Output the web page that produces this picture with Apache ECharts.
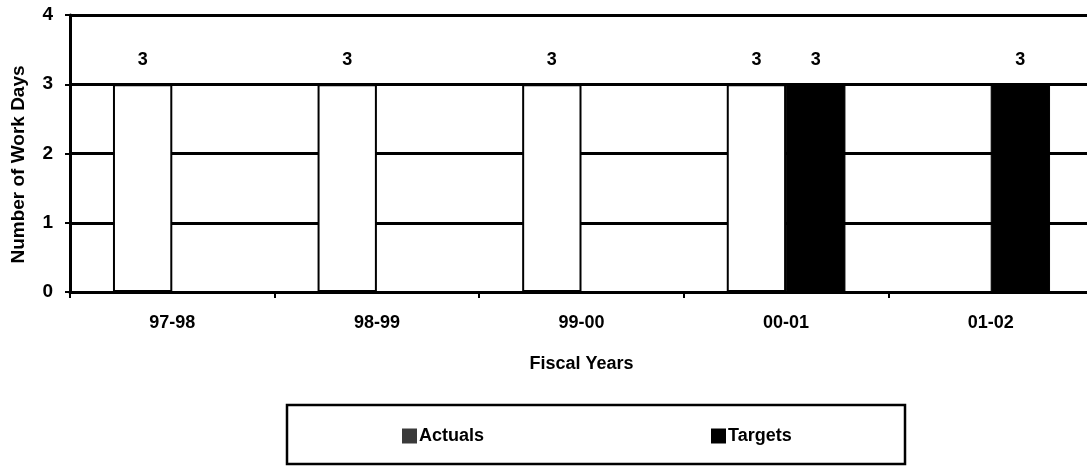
<!DOCTYPE html>
<html>
<head>
<meta charset="utf-8">
<script src="https://cdn.jsdelivr.net/npm/echarts@6/dist/echarts.min.js"></script>
<style>
  html, body { margin: 0; padding: 0; background: #fff; }
  #main { width: 1087px; height: 466px; }
</style>
</head>
<body>
<div id="main"></div>
<script>
var myChart = echarts.init(document.getElementById('main'));

// fiscal years and work-day values
var years = ['97-98', '98-99', '99-00', '00-01', '01-02'];
var actuals = [3, 3, 3, 3, null];
var targets = [null, null, null, 3, 3];

var font = '"Liberation Sans", Arial, sans-serif';

option = {
    animation: false,
    textStyle: { fontFamily: font, fontWeight: 'bold', color: '#000' },
    grid: { left: 70, right: -6, top: 15, bottom: 174, outerBoundsMode: 'none', containLabel: false },
    graphic: [{
        type: 'rect',
        shape: { x: 287, y: 405, width: 618, height: 59 },
        style: { fill: '#fff', stroke: '#000', lineWidth: 2.5 },
        z: -1
    }],
    legend: {
        left: 397,
        top: 422,
        itemWidth: 15,
        itemHeight: 15,
        itemGap: 227,
        icon: 'rect',
        textStyle: { fontFamily: font, fontWeight: 'bold', fontSize: 18, color: '#000', padding: [0, 0, 0, -3] },
        data: [
            { name: 'Actuals', itemStyle: { color: '#3a3a3a', borderWidth: 0 } },
            { name: 'Targets', itemStyle: { color: '#000', borderWidth: 0 } }
        ]
    },
    xAxis: {
        type: 'category',
        data: years,
        name: 'Fiscal Years',
        nameLocation: 'middle',
        nameGap: 63,
        nameTextStyle: { fontFamily: font, fontWeight: 'bold', fontSize: 18, color: '#000' },
        axisLine: { lineStyle: { color: '#000', width: 3 } },
        axisTick: { show: true, length: 6, lineStyle: { color: '#000', width: 2 } },
        axisLabel: { fontFamily: font, fontWeight: 'bold', fontSize: 18, color: '#000', margin: 22 }
    },
    yAxis: {
        type: 'value',
        min: 0,
        max: 4,
        interval: 1,
        name: 'Number of Work Days',
        nameLocation: 'middle',
        nameGap: 42,
        nameTextStyle: { fontFamily: font, fontWeight: 'bold', fontSize: 19, color: '#000', padding: [0, 22, 0, 0] },
        axisLine: { show: true, lineStyle: { color: '#000', width: 3 } },
        axisTick: { show: true, length: 5, lineStyle: { color: '#000', width: 2 } },
        axisLabel: { fontFamily: font, fontWeight: 'bold', fontSize: 19, color: '#000', margin: 17 },
        splitLine: { show: true, lineStyle: { color: '#000', width: 3 } }
    },
    series: [{
        name: 'Actuals',
        type: 'bar',
        data: actuals,
        barGap: '0%',
        barCategoryGap: '42%',
        itemStyle: { color: '#fff', borderColor: '#000', borderWidth: 2 },
        label: {
            show: true,
            position: 'top',
            distance: 15,
            fontFamily: font,
            fontWeight: 'bold',
            fontSize: 18,
            color: '#000'
        }
    }, {
        name: 'Targets',
        type: 'bar',
        data: targets,
        barGap: '0%',
        barCategoryGap: '42%',
        itemStyle: { color: '#000', borderColor: '#000', borderWidth: 1 },
        label: {
            show: true,
            position: 'top',
            distance: 15,
            fontFamily: font,
            fontWeight: 'bold',
            fontSize: 18,
            color: '#000'
        }
    }]
};

myChart.setOption(option);
</script>
</body>
</html>
